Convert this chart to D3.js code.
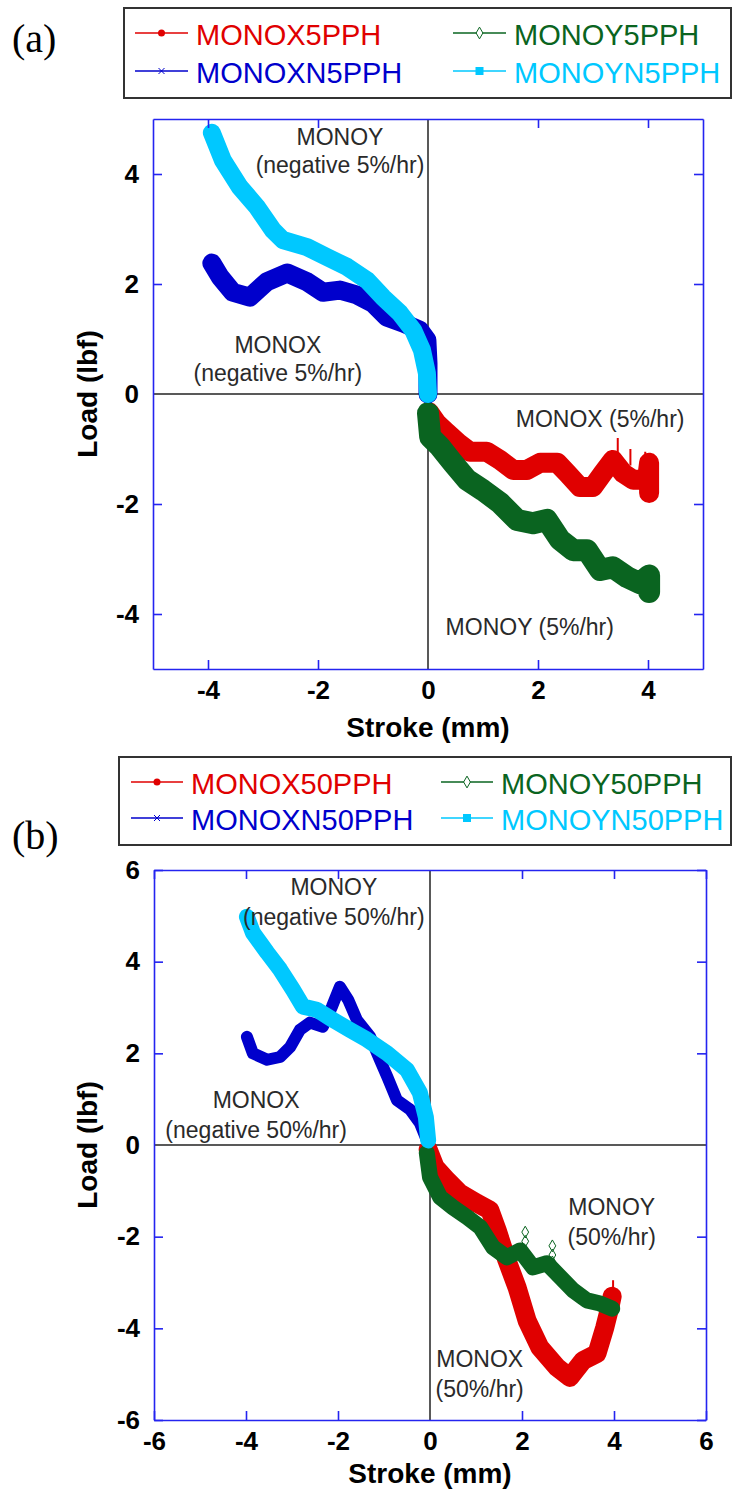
<!DOCTYPE html>
<html>
<head>
<meta charset="utf-8">
<script src="https://cdnjs.cloudflare.com/ajax/libs/d3/7.8.5/d3.min.js"></script>
<style>
body { margin: 0; background: #fff; }
text { font-family: "Liberation Sans", Arial, sans-serif; }
</style>
</head>
<body>
<div id="chart"></div>
<script>

// ---- data (stroke mm, load lbf) ----

var ticksA = [-4, -2, 0, 2, 4];
var ticksB = [-6, -4, -2, 0, 2, 4, 6];

var namesA = ["MONOX5PPH", "MONOY5PPH", "MONOXN5PPH", "MONOYN5PPH"];
var namesB = ["MONOX50PPH", "MONOY50PPH", "MONOXN50PPH", "MONOYN50PPH"];

// (a) 5%/hr
var monox5 = [[0.02,-0.33],[0.16,-0.53],[0.35,-0.71],[0.55,-0.89],[0.76,-1.05],[1.07,-1.05],[1.31,-1.2],
    [1.55,-1.38],[1.8,-1.38],[2.04,-1.25],[2.35,-1.25],[2.53,-1.44],[2.76,-1.69],[3.0,-1.69],[3.18,-1.44],
    [3.36,-1.2],[3.55,-1.44],[3.73,-1.56],[3.98,-1.56],[4.02,-1.25],[4.02,-1.8]];
var monox5Spikes = [[3.45,-1.2,-0.8],[3.68,-1.3,-1.0],[3.95,-1.3,-1.05]];
var monoy5 = [[0.0,-0.35],[0.04,-0.78],[0.22,-0.96],[0.45,-1.25],[0.71,-1.56],[1.0,-1.75],[1.31,-1.98],
    [1.62,-2.29],[1.91,-2.35],[2.16,-2.29],[2.4,-2.65],[2.64,-2.84],[2.89,-2.84],[3.13,-3.2],[3.36,-3.15],
    [3.62,-3.33],[3.85,-3.44],[4.02,-3.3],[4.02,-3.6]];
var monoxn5 = [[-3.93,2.38],[-3.78,2.13],[-3.55,1.85],[-3.24,1.76],[-2.93,2.04],[-2.56,2.2],[-2.2,2.04],
    [-1.91,1.85],[-1.6,1.89],[-1.29,1.8],[-1.0,1.65],[-0.75,1.4],[-0.45,1.29],[-0.15,1.16],[-0.02,0.98],
    [0.0,0.56],[0.0,0.0]];
var monoyn5 = [[-3.93,4.75],[-3.73,4.25],[-3.42,3.76],[-3.11,3.4],[-2.82,2.98],[-2.64,2.8],[-2.2,2.67],
    [-1.84,2.49],[-1.47,2.31],[-1.11,2.07],[-0.82,1.76],[-0.51,1.47],[-0.27,1.16],[-0.11,0.8],[-0.02,0.38],
    [0.0,0.0]];

// (b) 50%/hr
var monox50 = [[-0.04,-0.1],[0.11,-0.48],[0.37,-0.77],[0.65,-1.05],[1.02,-1.27],[1.3,-1.42],[1.46,-1.86],
    [1.67,-2.51],[1.89,-3.1],[2.11,-3.83],[2.39,-4.42],[2.76,-4.85],[3.04,-5.07],[3.33,-4.7],[3.63,-4.55],
    [3.8,-3.98],[3.91,-3.54],[3.96,-3.3]];
var monox50Spikes = [[3.98,-3.5,-2.95]];
var monoy50 = [[-0.07,-0.17],[0.0,-0.7],[0.22,-1.14],[0.5,-1.36],[0.8,-1.57],[1.09,-1.79],[1.37,-2.23],
    [1.67,-2.45],[1.96,-2.3],[2.24,-2.67],[2.54,-2.58],[2.83,-2.88],[3.11,-3.17],[3.41,-3.39],[3.7,-3.46],
    [3.96,-3.57]];
var monoy50Outliers = [[2.07,-1.9],[2.07,-2.1],[2.66,-2.2],[2.66,-2.4],[2.66,-2.55]];
var monoxn50 = [[-3.98,2.36],[-3.85,2.0],[-3.54,1.86],[-3.26,1.92],[-3.04,2.14],[-2.83,2.51],[-2.61,2.67],
    [-2.33,2.58],[-2.13,3.02],[-1.96,3.45],[-1.78,3.17],[-1.59,2.73],[-1.3,2.36],[-1.09,1.86],[-0.93,1.49],
    [-0.72,0.98],[-0.43,0.77],[-0.22,0.48],[-0.07,0.11]];
var monoyn50 = [[-3.98,4.98],[-3.85,4.63],[-3.54,4.2],[-3.26,3.83],[-2.98,3.39],[-2.76,3.02],[-2.46,2.95],
    [-2.11,2.73],[-1.74,2.51],[-1.37,2.3],[-0.93,2.0],[-0.5,1.64],[-0.22,1.14],[-0.09,0.61],[-0.04,0.1]];

// text notes, anchored in data units (first line)
var notesA = [
    {lines: ["MONOY", "(negative 5%/hr)"], x: -1.6, y: 4.53},
    {lines: ["MONOX", "(negative 5%/hr)"], x: -2.73, y: 0.75},
    {lines: ["MONOX (5%/hr)"], x: 3.13, y: -0.6},
    {lines: ["MONOY (5%/hr)"], x: 1.85, y: -4.38}
];
var notesB = [
    {lines: ["MONOY", "(negative 50%/hr)"], x: -2.09, y: 5.46},
    {lines: ["MONOX", "(negative 50%/hr)"], x: -3.78, y: 0.81},
    {lines: ["MONOY", "(50%/hr)"], x: 3.95, y: -1.53},
    {lines: ["MONOX", "(50%/hr)"], x: 1.08, y: -4.85}
];

var colors = {red: "#e00000", green: "#0a6420", blue: "#0000cc", cyan: "#00c8ff", axis: "#2424f0"};


LoadChart = function(_svg, _opts){
    this.svg = _svg;
    this.opts = _opts;
    this.initVis();
}

LoadChart.prototype.initVis = function(){
    var vis = this;
    var o = vis.opts;

    vis.x = d3.scaleLinear().domain(o.domain).range([o.left, o.left + o.width]);
    vis.y = d3.scaleLinear().domain(o.domain).range([o.top + o.height, o.top]);

    vis.g = vis.svg.append("g");

    vis.clipId = "clip-" + o.tag.replace(/[()]/g, "");
    vis.svg.append("clipPath").attr("id", vis.clipId)
        .append("rect")
        .attr("x", o.left).attr("y", o.top)
        .attr("width", o.width).attr("height", o.height);

    vis.line = d3.line()
        .x(function(d) { return vis.x(d[0]); })
        .y(function(d) { return vis.y(d[1]); });

    vis.updateVis();
};

LoadChart.prototype.updateVis = function(){
    var vis = this;
    var o = vis.opts;

    // zero lines
    vis.g.append("line")
        .attr("x1", o.left).attr("x2", o.left + o.width)
        .attr("y1", vis.y(0)).attr("y2", vis.y(0))
        .style("stroke", "#222").style("stroke-width", 1.5);
    vis.g.append("line")
        .attr("x1", vis.x(0)).attr("x2", vis.x(0))
        .attr("y1", o.top).attr("y2", o.top + o.height)
        .style("stroke", "#222").style("stroke-width", 1.5);

    // series bands
    var plot = vis.g.append("g").attr("clip-path", "url(#" + vis.clipId + ")");
    o.series.forEach(function(s) {
        plot.append("path")
            .datum(s.data)
            .attr("d", vis.line)
            .attr("fill", "none")
            .attr("stroke", s.color)
            .attr("stroke-width", s.width)
            .attr("stroke-linejoin", "round")
            .attr("stroke-linecap", "round");

        if (s.spikes) {
            plot.selectAll(null)
                .data(s.spikes)
                .enter().append("line")
                .attr("x1", function(d) { return vis.x(d[0]); })
                .attr("x2", function(d) { return vis.x(d[0]); })
                .attr("y1", function(d) { return vis.y(d[1]); })
                .attr("y2", function(d) { return vis.y(d[2]); })
                .style("stroke", s.color).style("stroke-width", 2);
        }
    });

    if (o.outliers) {
        plot.selectAll(".outlier")
            .data(o.outliers.data)
            .enter().append("path")
            .attr("class", "outlier")
            .attr("d", d3.symbol().type(d3.symbolDiamond).size(40))
            .attr("transform", function(d) { return "translate(" + vis.x(d[0]) + "," + vis.y(d[1]) + ")"; })
            .attr("fill", "none")
            .attr("stroke", o.outliers.color)
            .attr("stroke-width", 1);
    }

    // axes (box with inward ticks)
    var tk = 9;
    var fmt = function(d) { return String(d); };
    var xb = vis.g.append("g").attr("transform", "translate(0," + (o.top + o.height) + ")")
        .call(d3.axisBottom(vis.x).tickValues(o.ticks).tickSizeInner(-tk).tickSizeOuter(0).tickPadding(12).tickFormat(fmt));
    var xt = vis.g.append("g").attr("transform", "translate(0," + o.top + ")")
        .call(d3.axisTop(vis.x).tickValues(o.ticks).tickSizeInner(-tk).tickSizeOuter(0).tickFormat(""));
    var yl = vis.g.append("g").attr("transform", "translate(" + o.left + ",0)")
        .call(d3.axisLeft(vis.y).tickValues(o.ticks).tickSizeInner(-tk).tickSizeOuter(0).tickPadding(14).tickFormat(fmt));
    var yr = vis.g.append("g").attr("transform", "translate(" + (o.left + o.width) + ",0)")
        .call(d3.axisRight(vis.y).tickValues(o.ticks).tickSizeInner(-tk).tickSizeOuter(0).tickFormat(""));

    [xb, xt, yl, yr].forEach(function(ax) {
        ax.selectAll("path, line").style("stroke", colors.axis).style("stroke-width", 1.6);
        ax.selectAll("text")
            .style("font-family", "'Liberation Sans', Arial, sans-serif")
            .style("font-size", "26px")
            .style("font-weight", "bold")
            .style("fill", "#000");
        // drop the tick at the zero line
        ax.selectAll(".tick").filter(function(d) { return d === 0; }).select("line").remove();
    });

    // axis titles
    vis.g.append("text")
        .attr("x", o.left + o.width / 2)
        .attr("y", o.top + o.height + o.titleGap)
        .attr("text-anchor", "middle")
        .style("font-size", "28px").style("font-weight", "bold")
        .text("Stroke (mm)");
    vis.g.append("text")
        .attr("transform", "translate(97," + vis.y(0) + ") rotate(-90)")
        .attr("text-anchor", "middle")
        .style("font-size", "28px").style("font-weight", "bold")
        .text("Load (lbf)");

    // notes
    o.notes.forEach(function(n) {
        var t = vis.g.append("text")
            .attr("text-anchor", "middle")
            .style("font-size", "23px")
            .style("fill", "#2a2a2a");
        n.lines.forEach(function(l, i) {
            t.append("tspan")
                .attr("x", vis.x(n.x))
                .attr("y", vis.y(n.y) + i * o.noteGap)
                .text(l);
        });
    });

    // panel tag
    vis.svg.append("text")
        .attr("x", 12).attr("y", o.tagY)
        .style("font-family", "'Liberation Serif', 'Times New Roman', serif")
        .style("font-size", "40px")
        .text(o.tag);

    vis.drawLegend();
};

LoadChart.prototype.drawLegend = function(){
    var vis = this;
    var L = vis.opts.legend;

    var lg = vis.svg.append("g");
    lg.append("rect")
        .attr("x", L.x).attr("y", L.y)
        .attr("width", L.w).attr("height", L.h)
        .attr("fill", "#fff")
        .attr("stroke", "#333").attr("stroke-width", 2);

    vis.opts.series.forEach(function(s) {
        var cx = L.cols[s.col], cy = L.y + L.rows[s.row];
        var e = lg.append("g");
        e.append("line")
            .attr("x1", cx).attr("x2", cx + L.lineW)
            .attr("y1", cy).attr("y2", cy)
            .style("stroke", s.color).style("stroke-width", 1.5);

        var mx = cx + L.lineW / 2;
        if (s.marker === "circle") {
            e.append("circle").attr("cx", mx).attr("cy", cy).attr("r", 3.5).attr("fill", s.color);
        } else if (s.marker === "diamond") {
            e.append("path")
                .attr("d", d3.symbol().type(d3.symbolDiamond).size(40))
                .attr("transform", "translate(" + mx + "," + cy + ")")
                .attr("fill", "#fff").attr("stroke", s.color).attr("stroke-width", 1);
        } else if (s.marker === "x") {
            e.append("path")
                .attr("d", "M" + (mx - 3) + "," + (cy - 3) + "L" + (mx + 3) + "," + (cy + 3) +
                           "M" + (mx + 3) + "," + (cy - 3) + "L" + (mx - 3) + "," + (cy + 3))
                .attr("stroke", s.color).attr("stroke-width", 1);
        } else {
            e.append("rect").attr("x", mx - 4).attr("y", cy - 4).attr("width", 8).attr("height", 8)
                .attr("fill", s.color);
        }

        e.append("text")
            .attr("x", cx + L.lineW + 8)
            .attr("y", cy + 12)
            .style("font-size", "29px")
            .style("fill", s.color)
            .text(s.name);
    });
};


var svg = d3.select("#chart").append("svg")
    .attr("width", 733)
    .attr("height", 1494);

svg.append("rect").attr("width", 733).attr("height", 1494).attr("fill", "#fff");

var chartA = new LoadChart(svg, {
    tag: "(a)", tagY: 52,
    left: 153, top: 119, width: 550, height: 550,
    domain: [-5, 5], ticks: ticksA, titleGap: 68,
    notes: notesA, noteGap: 28,
    legend: {x: 124, y: 8, w: 607, h: 90, cols: [135, 453], rows: [25, 63], lineW: 53},
    series: [
        {name: namesA[0], data: monox5, spikes: monox5Spikes, color: colors.red, width: 20, marker: "circle", col: 0, row: 0},
        {name: namesA[2], data: monoxn5, color: colors.blue, width: 19, marker: "x", col: 0, row: 1},
        {name: namesA[1], data: monoy5, color: colors.green, width: 22, marker: "diamond", col: 1, row: 0},
        {name: namesA[3], data: monoyn5, color: colors.cyan, width: 18, marker: "square", col: 1, row: 1}
    ]
});

var chartB = new LoadChart(svg, {
    tag: "(b)", tagY: 849,
    left: 154, top: 870, width: 552, height: 550,
    domain: [-6, 6], ticks: ticksB, titleGap: 63,
    notes: notesB, noteGap: 30,
    legend: {x: 119, y: 757, w: 612, h: 88, cols: [131, 441], rows: [25, 61], lineW: 52},
    outliers: {data: monoy50Outliers, color: colors.green},
    series: [
        {name: namesB[0], data: monox50, spikes: monox50Spikes, color: colors.red, width: 19, marker: "circle", col: 0, row: 0},
        {name: namesB[2], data: monoxn50, color: colors.blue, width: 12, marker: "x", col: 0, row: 1},
        {name: namesB[1], data: monoy50, color: colors.green, width: 16, marker: "diamond", col: 1, row: 0},
        {name: namesB[3], data: monoyn50, color: colors.cyan, width: 16, marker: "square", col: 1, row: 1}
    ]
});

</script>
</body>
</html>
